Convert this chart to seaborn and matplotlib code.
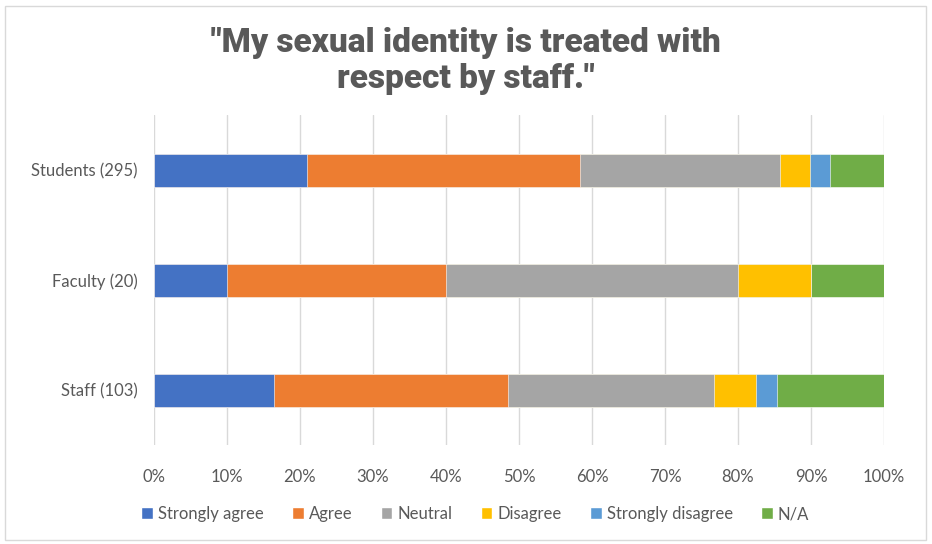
import numpy as np
import pandas as pd
import matplotlib
matplotlib.use('Agg')
import matplotlib.pyplot as plt
from matplotlib.patches import Rectangle, Patch
import seaborn as sns

sns.set_style('white')
plt.rcParams['font.family'] = ['Lato', 'DejaVu Sans']

TITLE = '"My sexual identity is treated with\nrespect by staff."'

groups = ['Students (295)', 'Faculty (20)', 'Staff (103)']
responses = ['Strongly agree', 'Agree', 'Neutral', 'Disagree', 'Strongly disagree', 'N/A']
colors = ['#4472C4', '#ED7D31', '#A5A5A5', '#FFC000', '#5B9BD5', '#70AD47']

# percent of respondents per group
strongly_agree    = [21.0, 10.0, 16.5]
agree             = [37.3, 30.0, 32.0]
neutral           = [27.5, 40.0, 28.2]
disagree          = [4.1, 10.0, 5.8]
strongly_disagree = [2.7, 0.0, 2.9]
na                = [7.4, 10.0, 14.6]

TEXT = '#595959'

# Cumulative long table; draw the widest first so shorter ones sit on top
series = [strongly_agree, agree, neutral, disagree, strongly_disagree, na]
cum = np.cumsum(np.array(series), axis=0)
rows = []
for resp, vals in zip(responses, cum):
    for g, v in zip(groups, vals):
        rows.append({'group': g, 'response': resp, 'cum': v / 100})
df = pd.DataFrame(rows)

fig = plt.figure(figsize=(9.32, 5.44), dpi=100)
ax = fig.add_axes([154 / 932, 1 - 445 / 544, 730 / 932, 330 / 544])

palette = dict(zip(responses, colors))
sns.barplot(data=df, x='cum', y='group', hue='response',
            hue_order=responses[::-1], order=groups, palette=palette,
            dodge=False, width=0.3, orient='h', ax=ax, saturation=1,
            edgecolor='white', linewidth=0.4, legend=False)

ax.set_xlim(0, 1)
ax.set_xticks(np.linspace(0, 1, 11))
ax.set_xticklabels([f'{int(round(t * 100))}%' for t in np.linspace(0, 1, 11)])
ax.xaxis.grid(True, color='#D9D9D9', linewidth=1)
ax.set_axisbelow(True)
for s in ax.spines.values():
    s.set_visible(False)
ax.set_xlabel('')
ax.set_ylabel('')
ax.tick_params(axis='both', length=0, labelsize=12, colors=TEXT)
ax.tick_params(axis='x', pad=17)
ax.tick_params(axis='y', pad=12)

handles = [Patch(facecolor=c, label=r) for r, c in zip(responses, colors)]
fig.legend(handles=handles, loc='center', bbox_to_anchor=(0.51, 1 - 514 / 544),
           ncol=6, frameon=False, fontsize=12, labelcolor=TEXT,
           handlelength=0.7, handleheight=0.7, handletextpad=0.3, columnspacing=1.7)

fig.text(0.5, 1 - 61 / 544, TITLE, ha='center', va='center',
         fontsize=24, fontweight='black', color=TEXT, linespacing=1.15,
         family=['Roboto', 'DejaVu Sans'])

fig.patches.append(Rectangle((5 / 932, 4 / 544), 921 / 932, 534 / 544,
                             transform=fig.transFigure, fill=False,
                             edgecolor='#D9D9D9', linewidth=1))

fig.savefig('out.png', dpi=100)
